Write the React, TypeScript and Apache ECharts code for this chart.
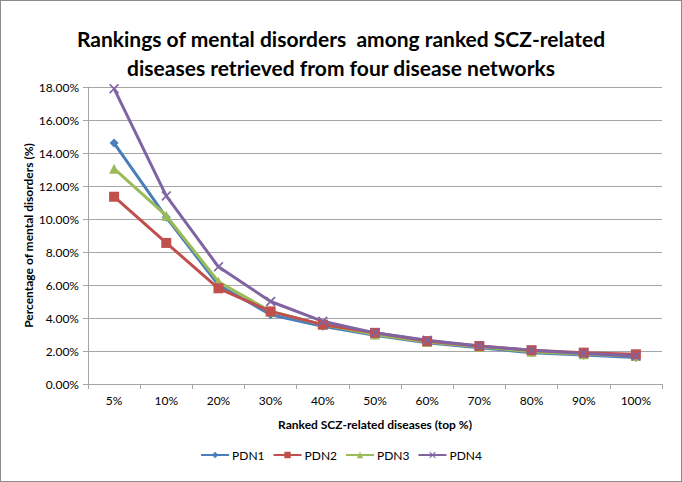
import React, { useEffect, useRef } from "react";
import * as echarts from "echarts";

const categories = ["5%", "10%", "20%", "30%", "40%", "50%", "60%", "70%", "80%", "90%", "100%"];
const pdn1 = [14.6, 10.1, 6.0, 4.2, 3.5, 2.95, 2.5, 2.2, 1.9, 1.75, 1.6];
const pdn2 = [11.35, 8.55, 5.8, 4.4, 3.6, 3.1, 2.6, 2.3, 2.05, 1.9, 1.8];
const pdn3 = [13.05, 10.2, 6.2, 4.4, 3.6, 3.0, 2.55, 2.25, 1.95, 1.8, 1.7];
const pdn4 = [17.9, 11.4, 7.1, 5.0, 3.8, 3.1, 2.65, 2.3, 2.05, 1.85, 1.7];
const seriesNames = ["PDN1", "PDN2", "PDN3", "PDN4"];
const colors = ["#4A7EBB", "#C0504D", "#9BBB59", "#8064A2"];

const FONT = "Lato";
const xSymbol = "path://M0,1.2L1.2,0L5,3.8L8.8,0L10,1.2L6.2,5L10,8.8L8.8,10L5,6.2L1.2,10L0,8.8L3.8,5Z";

export default function App() {
  const ref = useRef<HTMLDivElement>(null);
  useEffect(() => {
    const chart = echarts.init(ref.current!, null, { renderer: "svg" });
    const data = [pdn1, pdn2, pdn3, pdn4];
    const symbols = ["diamond", "rect", "triangle", xSymbol];
    const sizes = [9, 10, 10, 10];
    chart.setOption({
      animation: false,
      textStyle: { fontFamily: FONT },
      title: {
        text: "Rankings of mental disorders  among ranked SCZ-related\ndiseases retrieved from four disease networks",
        left: "center",
        top: 18,
        textStyle: { fontFamily: FONT, fontSize: 21, fontWeight: "bold", color: "#000", lineHeight: 29 },
      },
      legend: {
        bottom: 15,
        left: "center",
        itemWidth: 28,
        itemHeight: 8,
        itemGap: 8,
        textStyle: { fontFamily: FONT, fontSize: 12, color: "#000", padding: [0, 0, 0, -2] },
        data: seriesNames,
      },
      grid: { left: 87, right: 19, top: 86, bottom: 97 },
      xAxis: {
        type: "category",
        data: categories,
        boundaryGap: true,
        name: "Ranked SCZ-related diseases (top %)",
        nameLocation: "middle",
        nameGap: 34,
        nameMoveOverlap: false,
        nameTextStyle: { fontFamily: FONT, fontSize: 12, fontWeight: "bold", color: "#000" },
        axisLine: { lineStyle: { color: "#A6A6A6", width: 1 } },
        axisTick: { show: true, alignWithLabel: false, length: 5, lineStyle: { color: "#A6A6A6" } },
        axisLabel: { fontFamily: FONT, fontSize: 12, color: "#000", margin: 10 },
      },
      yAxis: {
        type: "value",
        min: 0,
        max: 18,
        interval: 2,
        name: "Percentage of mental disorders (%)",
        nameLocation: "middle",
        nameGap: 54,
        nameMoveOverlap: false,
        nameTextStyle: { fontFamily: FONT, fontSize: 12, fontWeight: "bold", color: "#000" },
        axisLine: { show: true, lineStyle: { color: "#A6A6A6", width: 1 } },
        axisTick: { show: true, length: 5, lineStyle: { color: "#A6A6A6" } },
        axisLabel: {
          fontFamily: FONT,
          fontSize: 12,
          color: "#000",
          margin: 9,
          formatter: (v: number) => v.toFixed(2) + "%",
        },
        splitLine: { lineStyle: { color: "#A6A6A6", width: 1 } },
      },
      series: seriesNames.map((n, i) => ({
        name: n,
        type: "line",
        data: data[i],
        symbol: symbols[i],
        symbolSize: sizes[i],
        lineStyle: { color: colors[i], width: 3 },
        itemStyle: { color: colors[i] },
        z: i === 1 ? 5 : 2 + i,
      })),
    });
    return () => chart.dispose();
  }, []);
  return (
    <div
      style={{
        position: "fixed",
        left: 0,
        top: 0,
        width: 680,
        height: 480,
        border: "1px solid #8C8C8C",
        background: "#fff",
      }}
    >
      <div ref={ref} style={{ width: 680, height: 480 }} />
    </div>
  );
}
